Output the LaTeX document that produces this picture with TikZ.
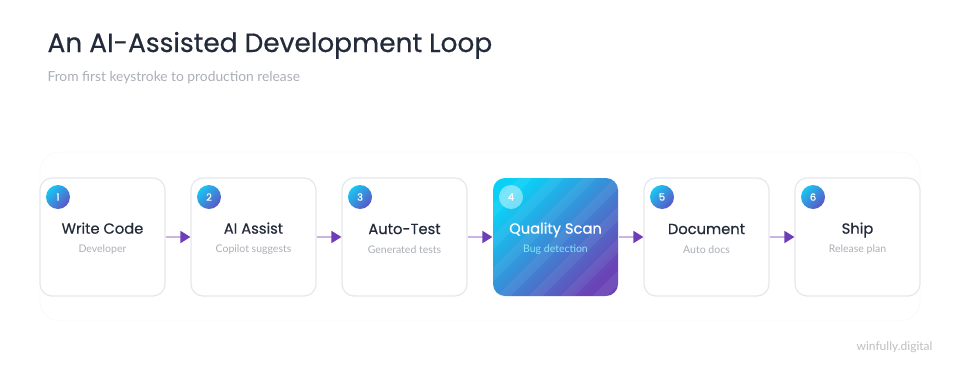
\documentclass[tikz,border=0pt]{standalone}
\usepackage{fontspec}
\setmainfont{Poppins}
\newfontfamily\medfont{Poppins}[FakeBold=0.5]
\newfontfamily\latofont{Lato}
\usepackage{xcolor}
\usetikzlibrary{arrows.meta,positioning,calc}
\definecolor{titleink}{HTML}{232A3A}
\definecolor{subink}{HTML}{ABAFB7}
\definecolor{boxline}{HTML}{E6E7EC}
\definecolor{arrowline}{HTML}{C9B4E3}
\definecolor{arrowhead}{HTML}{6C3FB8}
\definecolor{scanA}{HTML}{0BD0F6}
\definecolor{scanB}{HTML}{6A44B6}
\definecolor{dotA}{HTML}{19C6F2}
\definecolor{dotB}{HTML}{5B55C6}

\begin{document}
\begin{tikzpicture}[x=1pt,y=-1pt,
  stepbox/.style={draw=boxline,line width=1.2pt,rounded corners=12pt,minimum width=125pt,minimum height=118pt,fill=white},
  steptext/.style={align=center,text=titleink,yshift=-1.5pt,font=\medfont\fontsize{14.7}{19}\selectfont},
  numdot/.style={circle,minimum size=24pt,inner sep=0pt,top color=dotA,bottom color=dotB,shading angle=45,text=white,font=\medfont\fontsize{10}{10}\selectfont},
  flow/.style={draw=arrowline,line width=1.8pt,-{Triangle[length=10pt,width=12pt,color=arrowhead]}}]
  \useasboundingbox[fill=white] (0,0) rectangle (960,372);
  \node[anchor=base west,text=titleink,font=\medfont\fontsize{26.4}{30}\selectfont] (title) at (44,52) {An AI-Assisted Development Loop};
  \node[anchor=base west,text=subink,font=\latofont\fontsize{13.8}{16}\selectfont] (subtitle) at (44,81) {From first keystroke to production release};
  \draw[black!2,line width=0.8pt,rounded corners=20pt] (40,152) rectangle (920,321);
  % steps
  \node[stepbox,label={[steptext]center:{Write Code\\{\latofont\fontsize{10.5}{12}\selectfont\color{subink}Developer}}}] (s1) at (102.5,237) {};
  \node[stepbox,label={[steptext]center:{AI Assist\\{\latofont\fontsize{10.5}{12}\selectfont\color{subink}Copilot suggests}}}] (s2) at (253.5,237) {};
  \node[stepbox,label={[steptext]center:{Auto-Test\\{\latofont\fontsize{10.5}{12}\selectfont\color{subink}Generated tests}}}] (s3) at (404.5,237) {};
  \node[stepbox,draw=none,top color=scanA,bottom color=scanB,shading angle=45,
    path picture={\foreach \k in {-4,...,3} \fill[white,opacity=0.06] ($(path picture bounding box.center)+(\k*32,0)$) ++(-90,90) -- ++(180,-180) -- ++(14,0) -- ++(-180,180) -- cycle;},
    label={[steptext,text=white]center:{Quality Scan\\{\latofont\fontsize{10.5}{12}\selectfont\color{white!50!scanA}Bug detection}}}] (s4) at (555.5,237) {};
  \node[stepbox,label={[steptext]center:{Document\\{\latofont\fontsize{10.5}{12}\selectfont\color{subink}Auto docs}}}] (s5) at (706.5,237) {};
  \node[stepbox,label={[steptext]center:{Ship\\{\latofont\fontsize{10.5}{12}\selectfont\color{subink}Release plan}}}] (s6) at (857.5,237) {};
  % numbers
  \node[numdot] (n1) at (58,197) {1};
  \node[numdot] (n2) at (209,197) {2};
  \node[numdot] (n3) at (360,197) {3};
  \node[numdot,fill=white,fill opacity=0.25,text opacity=1,shading=axis,top color=white,bottom color=white] (n4) at (511,197) {4};
  \node[numdot] (n5) at (662,197) {5};
  \node[numdot] (n6) at (813,197) {6};
  \draw[flow] (s1) -- (s2);
  \draw[flow] (s2) -- (s3);
  \draw[flow] (s3) -- (s4);
  \draw[flow] (s4) -- (s5);
  \draw[flow] (s5) -- (s6);
  \node[anchor=base east,text=black!25,font=\latofont\fontsize{12}{14}\selectfont] (mark) at (936,350) {winfully.digital};
\end{tikzpicture}
\end{document}
